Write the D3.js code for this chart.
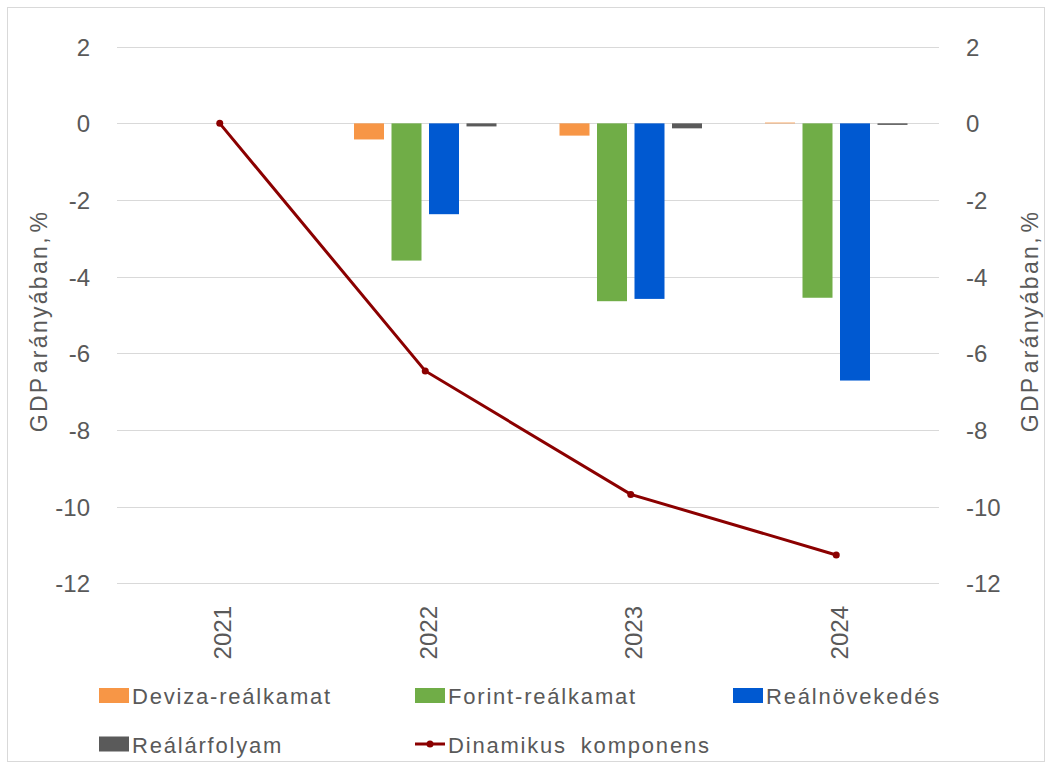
<!DOCTYPE html>
<html>
<head>
<meta charset="utf-8">
<script src="https://cdn.jsdelivr.net/npm/d3@7"></script>
<style>
  html, body { margin: 0; padding: 0; background: #fff; }
  svg text { font-family: "Liberation Sans", Arial, sans-serif; fill: #595959; }
</style>
</head>
<body>
<svg id="chart" width="1052" height="769"></svg>
<script>
// Years on the category axis
const years = ["2021", "2022", "2023", "2024"];

// Bar series (GDP arányában, %)
const devizaRealkamat = [0, -0.42, -0.32, 0.02];
const forintRealkamat = [0, -3.58, -4.64, -4.55];
const realnovekedes   = [0, -2.37, -4.58, -6.71];
const realarfolyam    = [0, -0.08, -0.13, -0.04];

// Line series
const dinamikusKomponens = [0, -6.46, -9.68, -11.26];

// Axis ticks
const yTicks = [2, 0, -2, -4, -6, -8, -10, -12];

const barSeries = [
  { name: "Deviza-reálkamat", values: devizaRealkamat, color: "#f79646" },
  { name: "Forint-reálkamat", values: forintRealkamat, color: "#70ad47" },
  { name: "Reálnövekedés",    values: realnovekedes,   color: "#0059d1" },
  { name: "Reálárfolyam",     values: realarfolyam,    color: "#5a5a5a" }
];
const lineColor = "#8b0000";

const svg = d3.select("#chart");

// outer frame
svg.append("rect")
  .attr("x", 7.5).attr("y", 7.5)
  .attr("width", 1037).attr("height", 754)
  .attr("fill", "none").attr("stroke", "#d9d9d9");

const left = 117, right = 939;
const x = d3.scaleBand().domain(years).range([left, right]);
const y = d3.scaleLinear().domain([-12, 2]).range([583.3, 46.7]);
const fmt = d => String(d);   // plain hyphen for negatives

// gridlines
svg.append("g").selectAll("line").data(yTicks).join("line")
  .attr("x1", left).attr("x2", right)
  .attr("y1", d => Math.round(y(d)) + 0.5).attr("y2", d => Math.round(y(d)) + 0.5)
  .attr("stroke", "#d9d9d9").attr("stroke-width", 1);

// left axis
const yLeft = svg.append("g").attr("transform", `translate(${left},0)`)
  .call(d3.axisLeft(y).tickValues(yTicks).tickFormat(fmt).tickSize(0).tickPadding(27));
yLeft.select(".domain").remove();
yLeft.selectAll("text").style("font-size", "24px").attr("dy", "0.35em");

// right axis
const yRight = svg.append("g").attr("transform", `translate(${right},0)`)
  .call(d3.axisRight(y).tickValues(yTicks).tickFormat(fmt).tickSize(0).tickPadding(27));
yRight.select(".domain").remove();
yRight.selectAll("text").style("font-size", "24px").attr("dy", "0.35em");

// axis titles
[47, 1038].forEach(bx => {
  svg.append("text")
    .attr("transform", `translate(${bx},321) rotate(-90)`)
    .attr("text-anchor", "middle")
    .style("font-size", "23px")
    .style("letter-spacing", "2.3px")
    .style("word-spacing", "-6px")
    .text("GDP arányában, %");
});

// category labels, rotated
svg.append("g").selectAll("text").data(years).join("text")
  .attr("transform", d => `translate(${x(d) + x.bandwidth() / 2 + 11.5},606) rotate(-90)`)
  .attr("text-anchor", "end")
  .style("font-size", "24px")
  .text(d => d);

// bars
const inner = d3.scaleBand()
  .domain(barSeries.map(s => s.name))
  .range([0, 150]).paddingInner(0.2).paddingOuter(0.1);
const groupOffset = (x.bandwidth() - 150) / 2;

barSeries.forEach(s => {
  svg.append("g").selectAll("rect").data(years).join("rect")
    .attr("x", d => x(d) + groupOffset + inner(s.name))
    .attr("width", inner.bandwidth())
    .attr("y", (d, i) => y(Math.max(0, s.values[i])))
    .attr("height", (d, i) => Math.abs(y(s.values[i]) - y(0)))
    .attr("fill", s.color);
});

// line with markers
const line = d3.line()
  .x((d, i) => x(years[i]) + x.bandwidth() / 2)
  .y(d => y(d));
svg.append("path")
  .datum(dinamikusKomponens)
  .attr("d", line)
  .attr("fill", "none")
  .attr("stroke", lineColor)
  .attr("stroke-width", 3);
svg.append("g").selectAll("circle").data(dinamikusKomponens).join("circle")
  .attr("cx", (d, i) => x(years[i]) + x.bandwidth() / 2)
  .attr("cy", d => y(d))
  .attr("r", 3.5)
  .attr("fill", lineColor);

// legend
const legendItems = [
  { name: "Deviza-reálkamat",  type: "bar",  color: "#f79646", x: 99,  y: 695.5 },
  { name: "Forint-reálkamat",  type: "bar",  color: "#70ad47", x: 415, y: 695.5 },
  { name: "Reálnövekedés",     type: "bar",  color: "#0059d1", x: 733, y: 695.5 },
  { name: "Reálárfolyam",      type: "bar",  color: "#5a5a5a", x: 99,  y: 744 },
  { name: "Dinamikus komponens", type: "line", color: lineColor, x: 415, y: 744 }
];
const lg = svg.append("g").selectAll("g").data(legendItems).join("g")
  .attr("transform", d => `translate(${d.x},${d.y})`);
lg.filter(d => d.type === "bar").append("rect")
  .attr("x", 0).attr("y", -7.5).attr("width", 30).attr("height", 15)
  .attr("fill", d => d.color);
lg.filter(d => d.type === "line").append("line")
  .attr("x1", 0).attr("x2", 30).attr("y1", 0).attr("y2", 0)
  .attr("stroke", d => d.color).attr("stroke-width", 3);
lg.filter(d => d.type === "line").append("circle")
  .attr("cx", 15).attr("cy", 0).attr("r", 3.5).attr("fill", d => d.color);
lg.append("text")
  .attr("x", 33).attr("y", 1).attr("dy", "0.35em")
  .style("font-size", "22px")
  .style("letter-spacing", "1.8px")
  .style("word-spacing", "6px")
  .text(d => d.name);
</script>
</body>
</html>
